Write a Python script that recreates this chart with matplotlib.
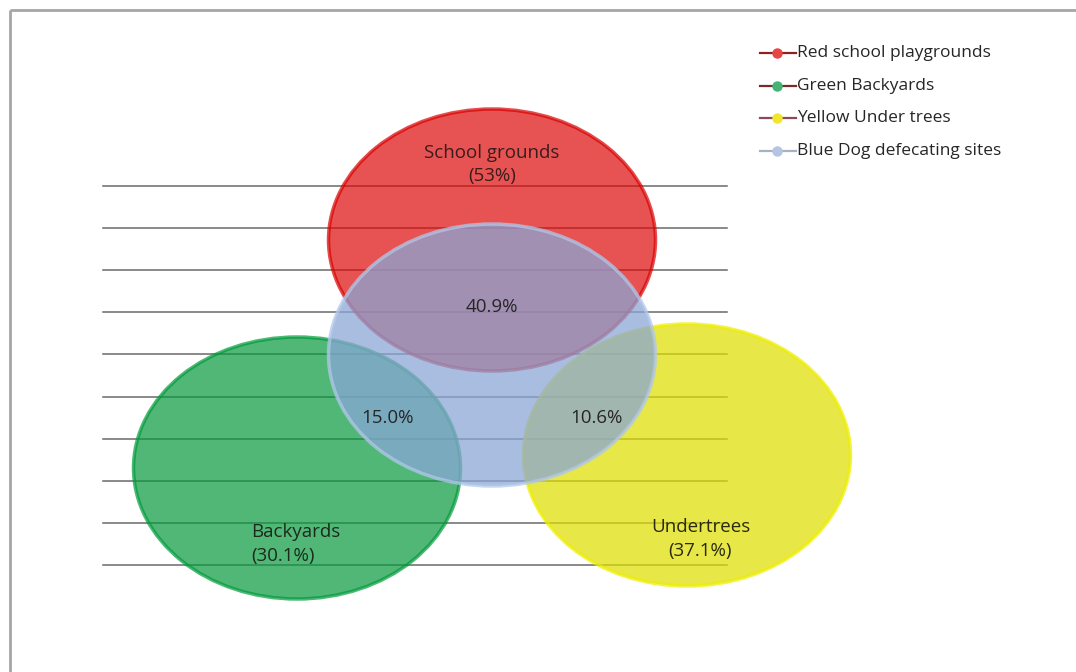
#!/usr/bin/env python3
"""
Venn-style chart of where the samples were found
(school grounds, backyards, under trees, dog defecating sites)
"""

import matplotlib.pyplot as plt
from matplotlib.patches import Ellipse

# Data
set_names = ["School grounds", "Backyards", "Undertrees"]
set_pcts = [53, 30.1, 37.1]
set_pct_fmt = ["({:.0f}%)", "({:.1f}%)", "({:.1f}%)"]
overlap_names = ["School grounds & Dog sites", "Backyards & Dog sites", "Undertrees & Dog sites"]
overlap_pcts = [40.9, 15.0, 10.6]
legend_labels = [
    "Red school playgrounds",
    "Green Backyards",
    "Yellow Under trees",
    "Blue Dog defecating sites",
]
n_gridlines = 10

plt.rcParams["font.family"] = ["Open Sans", "DejaVu Sans"]

# Layout (pixel coordinates of the 1076x672 canvas)
W, H = 1076, 672
ellipse_w, ellipse_h = 327, 262
centres = {
    "red": (492, 240),
    "green": (297, 468),
    "yellow": (687, 455),
    "blue": (492, 355),
}
# semi-transparent fills so the gridlines show through, as in the original
styles = {
    "red": dict(fc="#de0808", ec="#d80000", alpha=0.7),
    "green": dict(fc="#06993e", ec="#009a3a", alpha=0.7),
    "yellow": dict(fc="#dede00", ec="#eeee00", alpha=0.72),
    "blue": dict(fc="#8aa6d6", ec="#b2c8ea", alpha=0.74),
}

fig = plt.figure(figsize=(W / 100, H / 100), dpi=100)
ax = fig.add_axes([0, 0, 1, 1])
ax.set_xlim(0, W)
ax.set_ylim(H, 0)
ax.axis("off")

# frame (only top and left visible in the original)
ax.plot([10, W], [10, 10], color="#a6a6a6", lw=2, solid_capstyle="butt")
ax.plot([10, 10], [10, H], color="#a6a6a6", lw=2, solid_capstyle="butt")

# horizontal gridlines
grid_top, grid_step = 185.5, 42.2
for i in range(n_gridlines):
    y = grid_top + i * grid_step
    ax.plot([103, 727], [y, y], color="#6a6a6a", lw=1.1, zorder=1)

# ellipses
for i, key in enumerate(["red", "green", "yellow", "blue"]):
    st = styles[key]
    e = Ellipse(centres[key], ellipse_w, ellipse_h, facecolor=st["fc"],
                edgecolor=st["ec"], lw=2.5, alpha=st["alpha"], zorder=2 + i)
    ax.add_patch(e)

txt = dict(fontsize=13.5, color="#262626", ha="center", va="center", zorder=10)

# set labels
set_label_pos = [((492, 153), (492, 176)), ((296, 532), (283, 556)), ((701, 527), (700, 551))]
set_text_col = ["#3a1c1c", "#1c2a1c", "#2a2a10"]
for name, pct, fmt, (p1, p2), c in zip(set_names, set_pcts, set_pct_fmt, set_label_pos, set_text_col):
    ax.text(*p1, name, **{**txt, "color": c})
    ax.text(*p2, fmt.format(pct), **{**txt, "color": c})

# overlap labels
overlap_pos = [(492, 307), (388, 418), (596, 418)]
for pct, pos in zip(overlap_pcts, overlap_pos):
    ax.text(*pos, f"{pct:.1f}%", **txt)

# legend, drawn by hand to match the original row spacing
legend_lines = ["#8c2222", "#7a2a2a", "#8a4a5a", "#a8b0c8"]
legend_marks = ["#e84545", "#45b276", "#f0e62a", "#b4c4e2"]
leg_y0, leg_step = 53, 32.7
for i, (lab, lc, mc) in enumerate(zip(legend_labels, legend_lines, legend_marks)):
    y = leg_y0 + i * leg_step
    ax.plot([760, 796], [y, y], color=lc, lw=1.6, zorder=10)
    ax.plot([777], [y], marker="o", markersize=6.5, color=mc, zorder=11)
    ax.text(797, y, lab, fontsize=12.5, color="#262626", ha="left", va="center", zorder=10)

plt.savefig("out.png", dpi=100)
plt.close()
